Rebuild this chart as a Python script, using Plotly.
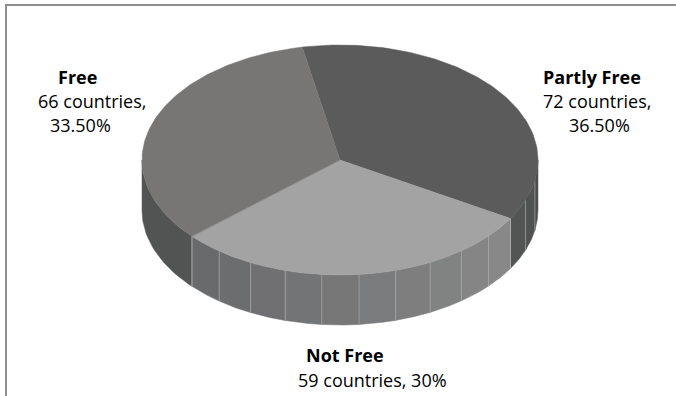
import numpy as np
import plotly.graph_objects as go

# ---- data (clockwise from the first slice) ----
categories = ["Partly Free", "Not Free", "Free"]
countries = [72, 59, 66]
pct_labels = ["36.50%", "30%", "33.50%"]

# ---- styling / geometry ----
top_colors = {"Partly Free": "#5b5b5b", "Not Free": "#a2a3a2", "Free": "#787674"}
side_colors = {"Partly Free": ("#4b4c4c", "#555656"),
               "Not Free": ("#8a8a8a", "#67686a"),
               "Free": ("#525453", "#525453")}
seg_step = {"Partly Free": 9.0, "Not Free": 11.0, "Free": 60.0}
W, H = 676, 396
cx, cy, rx, ry, depth = 340, 160, 198, 115, 50
start_angle = -11.0  # degrees clockwise from 12 o'clock

def pt(t, dy=0.0):
    r = np.radians(t)
    return cx + rx * np.sin(r), cy - ry * np.cos(r) + dy

def hexmix(c1, c2, f):
    a = [int(c1[i:i + 2], 16) for i in (1, 3, 5)]
    b = [int(c2[i:i + 2], 16) for i in (1, 3, 5)]
    m = [round(a[k] + (b[k] - a[k]) * f) for k in range(3)]
    return "#%02x%02x%02x" % tuple(m)

fig = go.Figure()
total = sum(countries)
angles = []
t = start_angle
for cat, v in zip(categories, countries):
    span = v / total * 360.0
    angles.append((cat, t, t + span))
    t += span

# side walls (front half: 90..270 degrees)
stripe_x, stripe_y = [], []
for cat, a, b in angles:
    lo, hi = max(a, 90.0), min(b, 270.0)
    if hi <= lo:
        continue
    nseg = max(1, int(round((hi - lo) / seg_step[cat])))
    edges = np.linspace(lo, hi, nseg + 1)
    c0, c1 = side_colors[cat]
    for i in range(nseg):
        s, e = edges[i], edges[i + 1]
        ts = np.linspace(s, e, 30)
        xt, yt = pt(ts)
        xb, yb = pt(ts[::-1], depth)
        xs = list(xt) + list(xb) + [xt[0]]
        ys = list(yt) + list(yb) + [yt[0]]
        f = (0.5 * (s + e) - lo) / (hi - lo)
        col = hexmix(c0, c1, f)
        fig.add_trace(go.Scatter(x=xs, y=ys, mode="lines", fill="toself",
                                 fillcolor=col, line=dict(width=0.5, color=col),
                                 hoverinfo="skip", showlegend=False))
    for e in edges:
        if 90.5 < e < 269.5:
            x0, y0 = pt(e)
            x1, y1 = pt(e, depth)
            stripe_x += [x0, x1, None]
            stripe_y += [y0, y1, None]

fig.add_trace(go.Scatter(x=stripe_x, y=stripe_y, mode="lines",
                         line=dict(width=1, color="rgba(185,185,185,0.55)"),
                         hoverinfo="skip", showlegend=False))

# top faces
for cat, a, b in angles:
    ts = np.linspace(a, b, 120)
    xa, ya = pt(ts)
    xs = [cx] + list(xa) + [cx]
    ys = [cy] + list(ya) + [cy]
    fig.add_trace(go.Scatter(x=xs, y=ys, mode="lines", fill="toself",
                             fillcolor=top_colors[cat],
                             line=dict(width=0.5, color=top_colors[cat]),
                             hoverinfo="skip", showlegend=False))

# labels
font_family = "Open Sans"
fs = 18
label_pos = {
    "Free": [(77, 77), (92, 101), (80, 125)],
    "Partly Free": [(592, 77), (597, 101), (599, 125)],
    "Not Free": [(345, 355), (372, 380)],
}
for cat, v, p in zip(categories, countries, pct_labels):
    if cat == "Not Free":
        lines = [(cat, True), (f"{v} countries, {p}", False)]
    else:
        lines = [(cat, True), (f"{v} countries,", False), (p, False)]
    for (txt, bold), (lx, ly) in zip(lines, label_pos[cat]):
        fig.add_annotation(x=lx, y=ly, xref="x", yref="y", text=txt,
                           showarrow=False, xanchor="center", yanchor="middle",
                           borderpad=0,
                           font=dict(family=font_family, size=fs, color="#000000",
                                     weight="bold" if bold else "normal"))

# chart border
fig.add_shape(type="rect", xref="x", yref="y", x0=6, y0=5, x1=W + 10, y1=H + 10,
              line=dict(color="#8f8f8f", width=2), fillcolor="rgba(0,0,0,0)",
              layer="below")

fig.update_layout(width=W, height=H, autosize=False,
                  margin=dict(l=0, r=0, t=0, b=0),
                  paper_bgcolor="white", plot_bgcolor="white",
                  xaxis=dict(range=[0, W], visible=False, fixedrange=True),
                  yaxis=dict(range=[H, 0], visible=False, fixedrange=True),
                  showlegend=False)
fig.write_html("out.html", config={"displayModeBar": False})
